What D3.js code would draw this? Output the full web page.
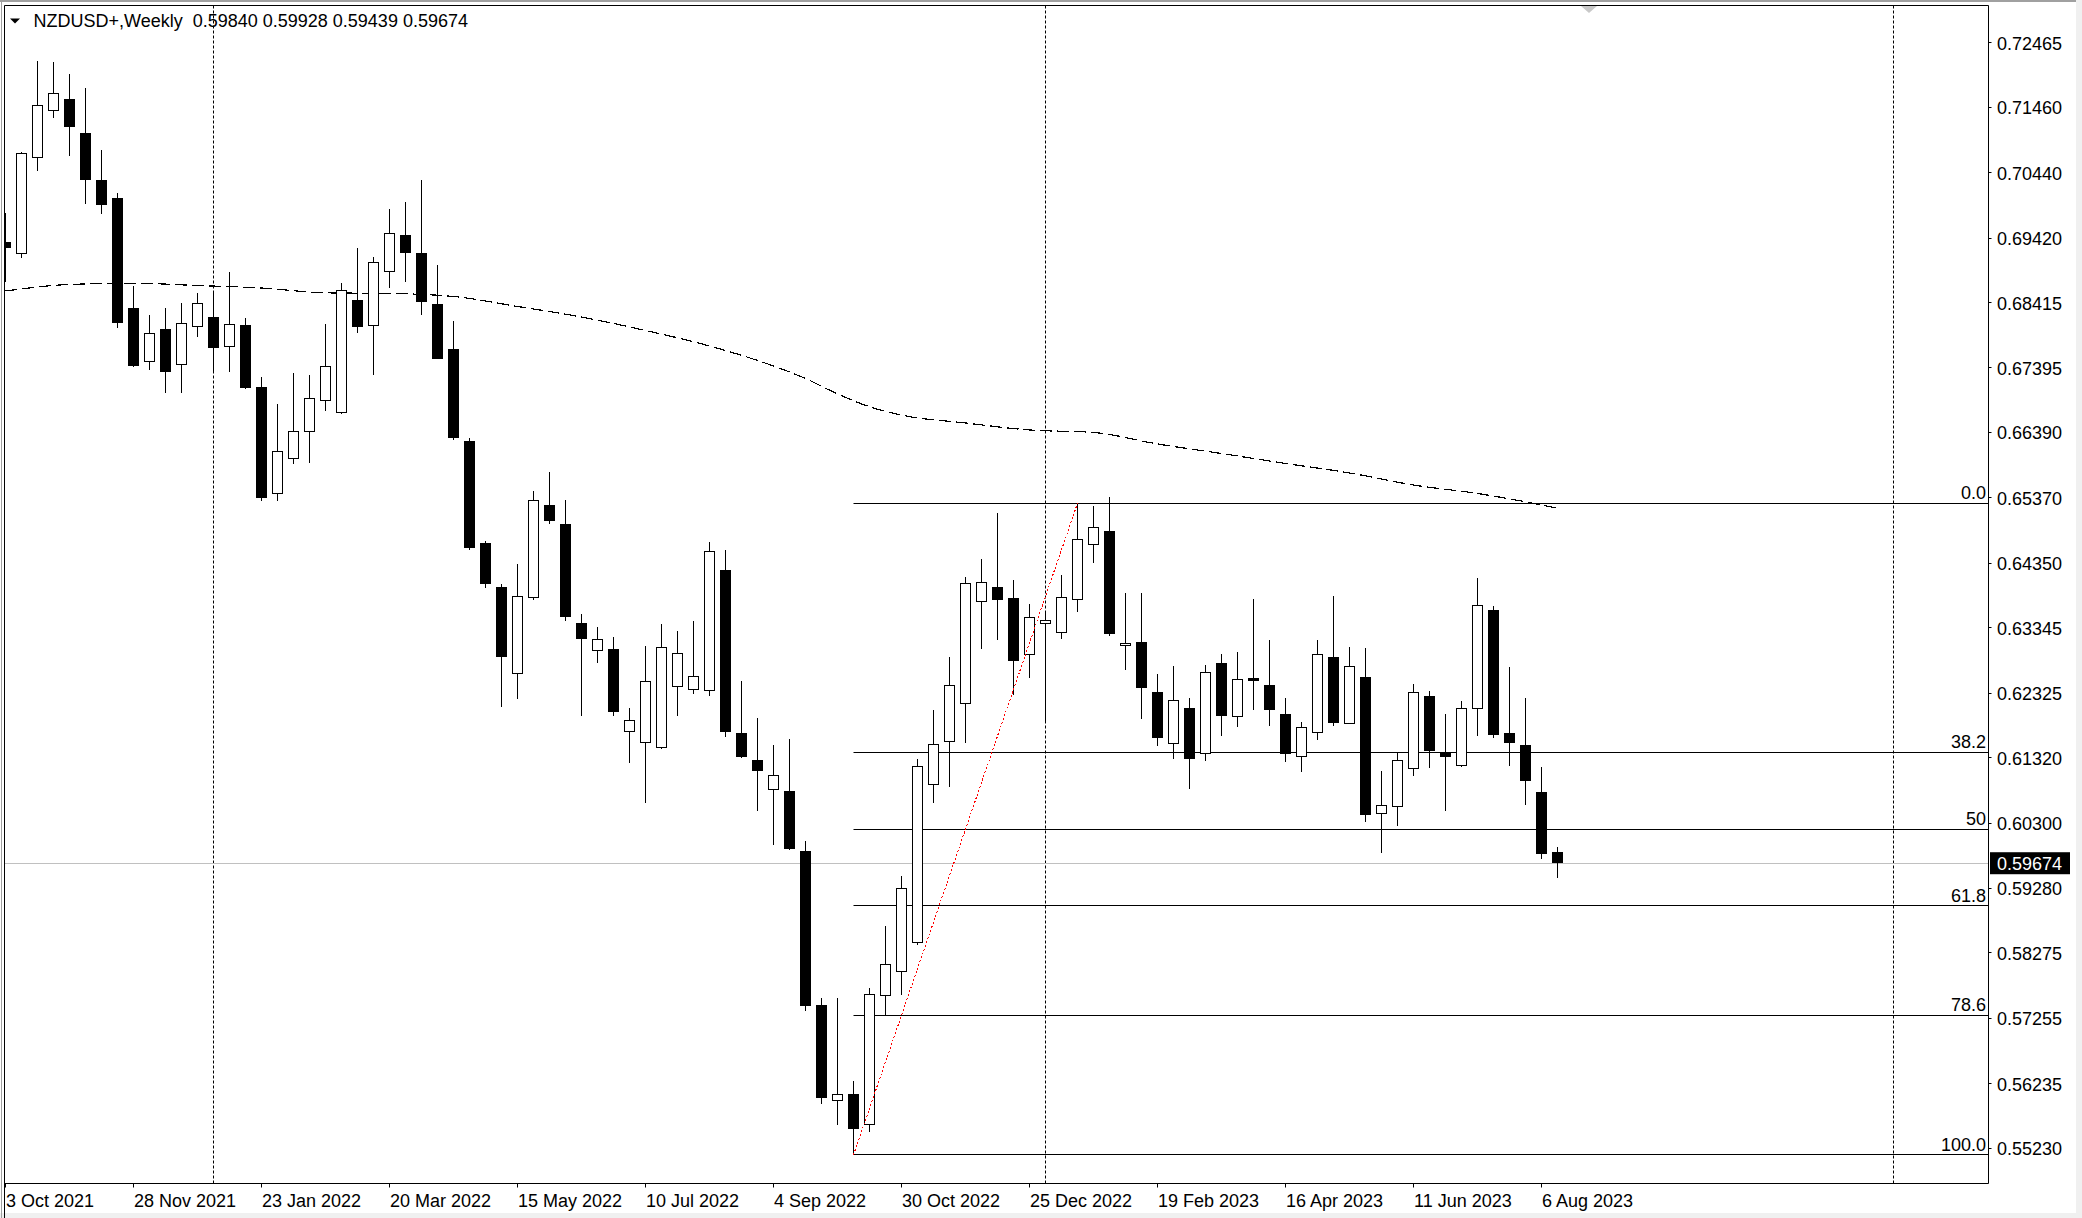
<!DOCTYPE html>
<html>
<head>
<meta charset="utf-8">
<script src="https://cdn.jsdelivr.net/npm/d3@7/dist/d3.min.js"></script>
<style>
html,body{margin:0;padding:0;background:#fff;overflow:hidden;}
svg{display:block;}
text{font-family:"Liberation Sans",Arial,sans-serif;font-size:18px;fill:#000;}
</style>
</head>
<body>
<svg id="c" width="2082" height="1218"></svg>
<script>
// ---- data (weekly NZDUSD, first bar = week of 3 Oct 2021) ----
const symbolTitle = "NZDUSD+,Weekly";
const lastOHLC = ["0.59840","0.59928","0.59439","0.59674"];

const opens = [0.69358,0.69167,0.70679,0.71411,0.71572,0.71053,0.70320,0.70029,0.68314,0.67503,
0.67987,0.67441,0.68049,0.68185,0.67726,0.68049,0.67092,0.65438,0.65996,0.66389,
0.66896,0.66689,0.68439,0.68064,0.68906,0.69452,0.69183,0.68389,0.67676,0.66245,
0.64652,0.63970,0.62625,0.63825,0.65252,0.64962,0.63411,0.62998,0.62998,0.61736,
0.61550,0.61488,0.62419,0.62377,0.62370,0.64230,0.61689,0.61268,0.60827,0.60785,
0.59850,0.57455,0.55987,0.56070,0.55594,0.57620,0.57972,0.58448,0.60889,0.61575,
0.62168,0.63758,0.63965,0.63793,0.62931,0.63419,0.63284,0.63773,0.64646,0.64838,
0.63056,0.63108,0.62339,0.61544,0.62090,0.61388,0.62791,0.61965,0.62546,0.62448,
0.61996,0.61341,0.61716,0.62885,0.61865,0.62573,0.60453,0.60562,0.61154,0.62266,
0.61377,0.61201,0.62074,0.63606,0.61689,0.61502,0.60769,0.59840];
const highs = [0.69810,0.70766,0.72180,0.72164,0.71977,0.71754,0.70792,0.70117,0.68672,0.68220,
0.68334,0.68412,0.68559,0.68559,0.68891,0.68169,0.67260,0.66834,0.67312,0.67287,
0.68081,0.68716,0.69262,0.69129,0.69874,0.69988,0.70325,0.68999,0.68128,0.66307,
0.64694,0.64032,0.64342,0.65479,0.65769,0.65335,0.63556,0.63349,0.63204,0.62088,
0.63060,0.63411,0.63287,0.63453,0.64682,0.64557,0.62515,0.61943,0.61518,0.61611,
0.60021,0.57579,0.57580,0.56277,0.57724,0.58696,0.59482,0.61299,0.62063,0.62889,
0.64136,0.64417,0.65134,0.64090,0.63716,0.63591,0.64168,0.65285,0.65243,0.65383,
0.63887,0.63887,0.62624,0.62749,0.62255,0.62760,0.62936,0.62967,0.63793,0.63154,
0.62246,0.61871,0.63154,0.63840,0.63045,0.63025,0.61112,0.61388,0.62464,0.62359,
0.62001,0.62203,0.64121,0.63684,0.62729,0.62246,0.61170,0.59928];
const lows = [0.68735,0.69104,0.70470,0.71287,0.70704,0.69946,0.69790,0.68022,0.67414,0.67363,
0.67000,0.67009,0.67873,0.67312,0.67337,0.67067,0.65314,0.65314,0.65893,0.65914,
0.66720,0.66680,0.67944,0.67287,0.68637,0.68741,0.68222,0.67531,0.66265,0.64549,
0.63970,0.62108,0.62232,0.63784,0.64962,0.63453,0.61964,0.62791,0.61964,0.61240,
0.60620,0.61447,0.61964,0.62315,0.62281,0.61647,0.61320,0.60493,0.59959,0.59880,
0.57371,0.55925,0.55594,0.55127,0.55491,0.57311,0.57620,0.58407,0.60609,0.60868,
0.61553,0.63019,0.63159,0.62297,0.62567,0.61881,0.63175,0.63595,0.64359,0.63221,
0.62691,0.61928,0.61507,0.61304,0.60836,0.61273,0.61662,0.61803,0.62068,0.61818,
0.61257,0.61101,0.61600,0.61818,0.61850,0.60322,0.59839,0.60255,0.61039,0.61164,
0.60493,0.61179,0.61662,0.61631,0.61195,0.60582,0.59745,0.59439];
const closes = [0.69280,0.70730,0.71489,0.71676,0.71156,0.70336,0.69946,0.68091,0.67430,0.67935,
0.67337,0.68080,0.68403,0.67726,0.68065,0.67087,0.65376,0.66100,0.66410,0.66912,
0.67425,0.68596,0.68040,0.69042,0.69495,0.69191,0.68445,0.67556,0.66307,0.64590,
0.64032,0.62894,0.63825,0.65335,0.65024,0.63535,0.63163,0.63163,0.62026,0.61902,
0.62501,0.63039,0.62936,0.62584,0.64537,0.61725,0.61335,0.61117,0.61045,0.59901,
0.57454,0.56008,0.56070,0.55553,0.57620,0.58097,0.59275,0.61186,0.61518,0.62448,
0.64038,0.64054,0.63782,0.62832,0.63508,0.63461,0.63820,0.64713,0.64911,0.63253,
0.63092,0.62411,0.61638,0.62214,0.61320,0.62651,0.61990,0.62542,0.62520,0.62083,
0.61388,0.61793,0.62931,0.61881,0.62744,0.60447,0.60578,0.61279,0.62339,0.61429,
0.61335,0.62090,0.63684,0.61678,0.61553,0.60961,0.59823,0.59674];

// moving average (dashed) read at bar indices
const maIndex = [0,4,8,12,16,20,24,28,32,36,40,44,48,50,52,54,56,60,64,68,72,76,80,84,88,92,96,97];
const maValue = [0.68594,0.68696,0.68715,0.68680,0.68641,0.68566,0.68556,0.68509,0.68353,0.68189,
0.67979,0.67737,0.67425,0.67230,0.66990,0.66790,0.66660,0.66537,0.66428,0.66389,0.66210,0.66061,
0.65906,0.65758,0.65570,0.65438,0.65259,0.65207];

// axis labels
const priceTicks = [0.72465,0.71460,0.70440,0.69420,0.68415,0.67395,0.66390,0.65370,0.64350,
0.63345,0.62325,0.61320,0.60300,0.59280,0.58275,0.57255,0.56235,0.55230];
const dateLabels = ["3 Oct 2021","28 Nov 2021","23 Jan 2022","20 Mar 2022","15 May 2022",
"10 Jul 2022","4 Sep 2022","30 Oct 2022","25 Dec 2022","19 Feb 2023","16 Apr 2023","11 Jun 2023","6 Aug 2023"];
const dateLabelIndex = [0,8,16,24,32,40,48,56,64,72,80,88,96];
const yearSeparatorIndex = [13,65,118];

// fibonacci retracement (anchors: bar 53 low -> bar 67 high)
const fibLevels = [0,38.2,50,61.8,78.6,100];
const fibLabels = ["0.0","38.2","50","61.8","78.6","100.0"];
const fibLowIndex = 53, fibHighIndex = 67;

// ---- layout ----
const W = 2082, H = 1218;
const plotL = 4.5, plotR = 1988.5, plotT = 5.5, plotB = 1183.5;

const svg = d3.select("#c");
const x = d3.scaleLinear().domain([0, 1]).range([5.5, 21.5]);
const y = d3.scaleLinear().domain([0.55230, 0.72465]).range([1148.3, 42.7]);
const crisp = v => Math.round(v - 0.5) + 0.5;

// window frame
svg.append("rect").attr("x",0).attr("y",0).attr("width",W).attr("height",H).attr("fill","#fff");
svg.append("rect").attr("x",0).attr("y",0).attr("width",W).attr("height",2).attr("fill","#a0a0a0");
svg.append("rect").attr("x",W-6).attr("y",0).attr("width",6).attr("height",H).attr("fill","#f0f0f0");
svg.append("rect").attr("x",0).attr("y",H-5).attr("width",W).attr("height",5).attr("fill","#f0f0f0");
svg.append("line").attr("x1",1.5).attr("x2",1.5).attr("y1",0).attr("y2",H).attr("stroke","#a0a0a0");

svg.append("clipPath").attr("id","plotclip").append("rect")
  .attr("x",plotL+0.5).attr("y",plotT+0.5).attr("width",plotR-plotL-1).attr("height",plotB-plotT-1);
const plot = svg.append("g").attr("clip-path","url(#plotclip)");

// year separators
plot.selectAll(".sep").data(yearSeparatorIndex).join("line")
  .attr("x1",d=>crisp(x(d))).attr("x2",d=>crisp(x(d)))
  .attr("y1",plotT).attr("y2",plotB)
  .attr("stroke","#000").attr("stroke-width",1).attr("stroke-dasharray","3,2");

// current price line
plot.append("line").attr("x1",plotL).attr("x2",plotR)
  .attr("y1",crisp(y(closes[closes.length-1]))).attr("y2",crisp(y(closes[closes.length-1])))
  .attr("stroke","#c0c0c0").attr("stroke-width",1);

// fibonacci
const fHigh = highs[fibHighIndex], fLow = lows[fibLowIndex];
const fibPrice = l => fHigh - (fHigh - fLow) * l / 100;
plot.selectAll(".fib").data(fibLevels).join("line")
  .attr("x1",crisp(x(fibLowIndex))).attr("x2",plotR)
  .attr("y1",d=>crisp(y(fibPrice(d)))).attr("y2",d=>crisp(y(fibPrice(d))))
  .attr("stroke","#000").attr("stroke-width",1);
plot.selectAll(".fibt").data(fibLevels).join("text")
  .attr("x",1986).attr("y",d=>y(fibPrice(d))-4).attr("text-anchor","end")
  .text((d,i)=>fibLabels[i]);

// moving average
const maLine = d3.line().x(d=>x(d[0])).y(d=>y(d[1])).curve(d3.curveMonotoneX);
plot.append("path").datum(maIndex.map((d,i)=>[d,maValue[i]]))
  .attr("d",maLine).attr("fill","none").attr("stroke","#000").attr("stroke-width",1.2)
  .attr("stroke-dasharray","12,5").attr("shape-rendering","crispEdges");

// candles
const idx = d3.range(opens.length);
const cg = plot.append("g");
cg.selectAll(".wick").data(idx).join("line")
  .attr("x1",i=>crisp(x(i))).attr("x2",i=>crisp(x(i)))
  .attr("y1",i=>Math.round(y(highs[i]))).attr("y2",i=>Math.round(y(lows[i])))
  .attr("stroke","#000").attr("stroke-width",1);
cg.selectAll(".body").data(idx).join("rect")
  .attr("x",i=>crisp(x(i))-5).attr("width",10)
  .attr("y",i=>crisp(y(Math.max(opens[i],closes[i]))))
  .attr("height",i=>Math.max(1, Math.round(y(Math.min(opens[i],closes[i]))) - Math.round(y(Math.max(opens[i],closes[i])))))
  .attr("fill",i=>closes[i] < opens[i] ? "#000" : "#fff")
  .attr("stroke","#000").attr("stroke-width",1);

// red trend line low->high
plot.append("line")
  .attr("x1",x(fibLowIndex)).attr("y1",y(fLow))
  .attr("x2",x(fibHighIndex)).attr("y2",y(fHigh))
  .attr("stroke","#ff0000").attr("stroke-width",1).attr("stroke-dasharray","2,2")
  .attr("shape-rendering","crispEdges");

// chart shift marker
svg.append("path").attr("d","M1581,6 L1597,6 L1589,13 Z").attr("fill","#c8c8c8");

// plot frame
svg.append("line").attr("x1",plotL).attr("x2",plotL).attr("y1",plotT).attr("y2",H).attr("stroke","#000");
svg.append("line").attr("x1",plotL).attr("x2",plotR).attr("y1",plotT).attr("y2",plotT).attr("stroke","#000");
svg.append("line").attr("x1",plotR).attr("x2",plotR).attr("y1",plotT).attr("y2",plotB).attr("stroke","#000");
svg.append("line").attr("x1",plotL).attr("x2",plotR).attr("y1",plotB).attr("y2",plotB).attr("stroke","#000");

// right price axis
const ya = svg.append("g");
ya.selectAll(".tk").data(priceTicks).join("line")
  .attr("x1",plotR).attr("x2",plotR+3).attr("y1",d=>crisp(y(d))).attr("y2",d=>crisp(y(d)))
  .attr("stroke","#000");
ya.selectAll(".tl").data(priceTicks).join("text")
  .attr("x",1997).attr("y",d=>y(d)+7).text(d=>d.toFixed(5));

// current price box
const cp = closes[closes.length-1];
svg.append("rect").attr("x",1990).attr("y",y(cp)-11).attr("width",80).attr("height",22).attr("fill","#000");
svg.append("text").attr("x",1997).attr("y",y(cp)+7).style("fill","#fff").text(lastOHLC[3]);

// bottom date axis
const xa = svg.append("g");
xa.selectAll(".tk").data(dateLabelIndex).join("line")
  .attr("x1",d=>crisp(x(d))).attr("x2",d=>crisp(x(d))).attr("y1",plotB).attr("y2",plotB+4)
  .attr("stroke","#000");
xa.selectAll(".tl").data(dateLabelIndex).join("text")
  .attr("x",d=>x(d)+0.5).attr("y",1206.5).text((d,i)=>dateLabels[i]);

// header
svg.append("path").attr("d","M10,18.5 L20,18.5 L15,23.5 Z").attr("fill","#000");
svg.append("text").attr("x",33.5).attr("y",26.5).attr("xml:space","preserve")
  .text(symbolTitle + "  " + lastOHLC.join(" "));
</script>
</body>
</html>
